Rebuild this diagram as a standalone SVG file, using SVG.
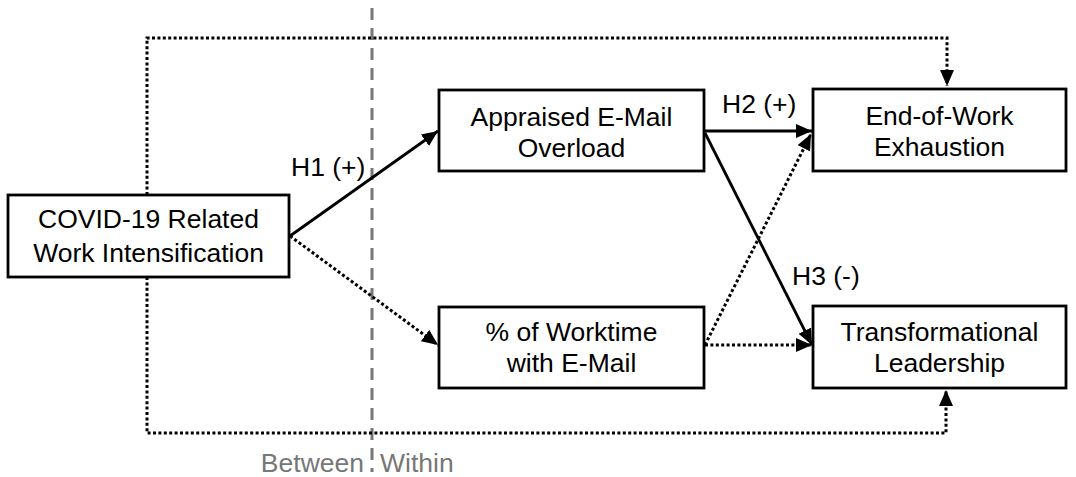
<svg xmlns="http://www.w3.org/2000/svg" width="1076" height="477" viewBox="0 0 1076 477">
<defs>
<style>
.box{fill:#fff;stroke:#000;stroke-width:2.8}
.t{font-family:"Liberation Sans",Arial,sans-serif;font-size:26.5px;fill:#000;text-anchor:middle}
.lbl{font-family:"Liberation Sans",Arial,sans-serif;font-size:26.5px;fill:#000}
.g{font-family:"Liberation Sans",Arial,sans-serif;font-size:26.5px;fill:#777}
.solid{fill:none;stroke:#000;stroke-width:2.8}
.dot{fill:none;stroke:#000;stroke-width:3;stroke-dasharray:3 2.4}
</style>
<marker id="ah" markerUnits="userSpaceOnUse" markerWidth="17" markerHeight="15" refX="16" refY="7" orient="auto">
<path d="M0,0 L16,7 L0,14 z" fill="#000"/>
</marker>
</defs>
<line x1="372" y1="8" x2="372" y2="472" stroke="#777" stroke-width="3" stroke-dasharray="12 8"/>
<g id="connectors">
<path class="dot" d="M147,195 V38 H947 V86" marker-end="url(#ah)"/>
<path class="dot" d="M147,277 V433 H946 V390" marker-end="url(#ah)"/>
<line class="solid" x1="290" y1="236" x2="438" y2="131" marker-end="url(#ah)"/>
<line class="dot" x1="290" y1="236" x2="438" y2="345" marker-end="url(#ah)"/>
<line class="solid" x1="704" y1="131" x2="812" y2="131" marker-end="url(#ah)"/>
<line class="solid" x1="705" y1="133" x2="812" y2="345" marker-end="url(#ah)"/>
<line class="dot" x1="705" y1="345" x2="811" y2="134" marker-end="url(#ah)"/>
<line class="dot" x1="705" y1="345" x2="812" y2="345" marker-end="url(#ah)"/>
<text class="lbl" x="291" y="176">H1 (+)</text>
<text class="lbl" x="722" y="113">H2 (+)</text>
<text class="lbl" x="792" y="285">H3 (-)</text>
</g>
<g id="covid">
<rect class="box" x="8" y="195" width="281" height="82"/>
<text class="t" x="148.5" y="228">COVID-19 Related</text>
<text class="t" x="148.5" y="262">Work Intensification</text>
</g>
<g id="overload">
<rect class="box" x="439" y="90" width="265" height="81"/>
<text class="t" x="571.5" y="126">Appraised E-Mail</text>
<text class="t" x="571.5" y="157">Overload</text>
</g>
<g id="worktime">
<rect class="box" x="439" y="307" width="265" height="81"/>
<text class="t" x="571.5" y="341">% of Worktime</text>
<text class="t" x="571.5" y="372">with E-Mail</text>
</g>
<g id="exhaustion">
<rect class="box" x="813" y="89" width="253" height="82"/>
<text class="t" x="939.5" y="125">End-of-Work</text>
<text class="t" x="939.5" y="156">Exhaustion</text>
</g>
<g id="leadership">
<rect class="box" x="813" y="306" width="253" height="82"/>
<text class="t" x="939.5" y="341">Transformational</text>
<text class="t" x="939.5" y="372">Leadership</text>
</g>
<text class="g" x="364" y="472" text-anchor="end">Between</text>
<text class="g" x="380" y="472">Within</text>
</svg>
